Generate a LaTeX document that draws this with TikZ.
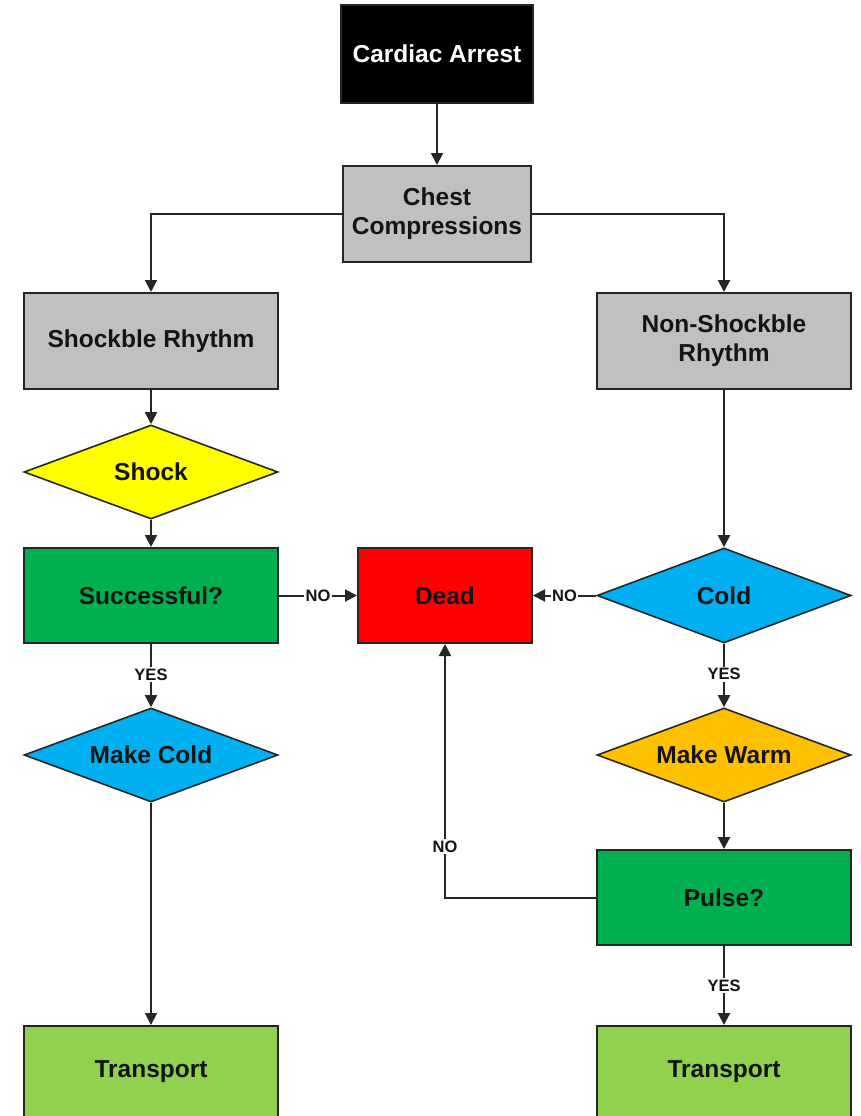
\documentclass[tikz,border=0pt]{standalone}
\usepackage{fontspec}
\setmainfont{Liberation Sans}
\usetikzlibrary{shapes.geometric,arrows.meta}
\definecolor{cgray}{HTML}{C0C0C0}
\definecolor{cyellow}{HTML}{FFFF00}
\definecolor{cgreen}{HTML}{00B050}
\definecolor{cred}{HTML}{FF0000}
\definecolor{cblue}{HTML}{00B0F0}
\definecolor{corange}{HTML}{FFC000}
\definecolor{clgreen}{HTML}{92D050}
\definecolor{ctext}{HTML}{141414}
\tikzset{
  txt/.style={font=\fontsize{24.5}{29}\selectfont\bfseries,text=ctext},
  box/.style={rectangle,draw=black!85,line width=2pt,inner sep=2pt,align=center,txt},
  bigbox/.style={box,minimum width=254pt,minimum height=96pt},
  dia/.style={diamond,draw=black!85,line width=1.6pt,inner sep=0pt,aspect=2.7,
    minimum width=254pt,minimum height=94pt,txt},
  conn/.style={line width=2pt,draw=black!85,-{Triangle[length=12pt,width=12pt]}},
  lbl/.style={fill=white,inner sep=1.5pt,font=\fontsize{16.5}{19}\selectfont\bfseries,text=ctext}
}
\begin{document}
\begin{tikzpicture}[x=1pt,y=-1pt]
\clip (0,0) rectangle (861,1116);
\fill[white] (0,0) rectangle (861,1116);

\node[box,fill=black,text=white,minimum width=192pt,minimum height=98pt] (ca) at (437,54) {Cardiac Arrest};
\node[box,fill=cgray,minimum width=188pt,minimum height=96pt] (cc) at (437,214) {Chest\\Compressions};
\node[bigbox,fill=cgray] (sr) at (151,341) {Shockble Rhythm};
\node[bigbox,fill=cgray] (nsr) at (724,341) {Non-Shockble\\Rhythm};
\node[dia,fill=cyellow] (shock) at (151,472) {Shock};
\node[bigbox,fill=cgreen,minimum height=95pt] (succ) at (151,595.5) {Successful?};
\node[box,fill=cred,minimum width=174pt,minimum height=95pt] (dead) at (445,595.5) {Dead};
\node[dia,fill=cblue,minimum height=95pt] (cold) at (724,595.5) {Cold};
\node[dia,fill=cblue] (mc) at (151,755) {Make Cold};
\node[dia,fill=corange] (mw) at (724,755) {Make Warm};
\node[bigbox,fill=cgreen,minimum height=95pt] (pulse) at (724,897.5) {Pulse?};
\node[bigbox,fill=clgreen,anchor=north,minimum height=120pt] (t1) at (151,1025) {};
\node[bigbox,fill=clgreen,anchor=north,minimum height=120pt] (t2) at (724,1025) {};
\node[txt] (t1l) at (151,1072) {Transport};
\node[txt] (t2l) at (724,1072) {Transport};

\draw[conn] (ca) -- (cc);
\draw[conn] (cc.west) -| (sr.north);
\draw[conn] (cc.east) -| (nsr.north);
\draw[conn] (sr) -- (shock);
\draw[conn] (shock) -- (succ);
\draw[conn] (nsr) -- (cold);
\draw[conn] (succ) -- node[lbl]{NO} (dead);
\draw[conn] (cold) -- node[lbl]{NO} (dead);
\draw[conn] (succ) -- node[lbl,pos=0.48]{YES} (mc);
\draw[conn] (cold) -- node[lbl,pos=0.48]{YES} (mw);
\draw[conn] (mc.south) -- (t1.north);
\draw[conn] (mw) -- (pulse);
\coordinate (bend) at (445,897.5);
\draw[conn] (pulse.west) -- (bend) -- node[lbl,pos=0.2]{NO} (dead.south);
\draw[conn] (pulse.south) -- node[lbl,pos=0.5]{YES} (t2.north);
\end{tikzpicture}
\end{document}
